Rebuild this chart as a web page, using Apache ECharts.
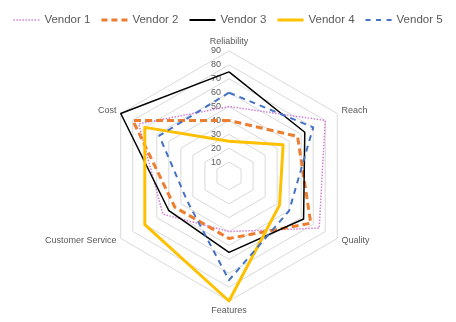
<!DOCTYPE html>
<html>
<head>
<meta charset="utf-8">
<script src="https://cdn.jsdelivr.net/npm/echarts@6/dist/echarts.min.js"></script>
<style>html,body{margin:0;padding:0;background:#fff}#c{width:456px;height:322px}</style>
</head>
<body>
<div id="c"></div>
<script>
// Axes in clockwise order starting at top
var axes = ['Reliability', 'Reach', 'Quality', 'Features', 'Customer Service', 'Cost'];
var axisMax = 90;
var vendorNames = ['Vendor 1', 'Vendor 2', 'Vendor 3', 'Vendor 4', 'Vendor 5'];
var vendor1 = [50, 80, 75, 40, 55, 75];
var vendor2 = [40, 57, 68, 45, 45, 80];
var vendor3 = [75, 63, 62, 55, 50, 90];
var vendor4 = [25, 45, 42, 90, 70, 70];
var vendor5 = [60, 70, 50, 75, 35, 58];

var styles = [
  {color: '#d27fd8', width: 1.5, type: [1.5, 1.5], icon: 'path://M0,0h1.5v1.5h-1.5z M3,0h1.5v1.5h-1.5z M6,0h1.5v1.5h-1.5z M9,0h1.5v1.5h-1.5z M12,0h1.5v1.5h-1.5z M15,0h1.5v1.5h-1.5z M18,0h1.5v1.5h-1.5z M21,0h1.5v1.5h-1.5z M24.5,0h1.5v1.5h-1.5z'},
  {color: '#ed7d31', width: 3, type: [7, 4], icon: 'path://M0,0h6v3h-6z M10,0h6v3h-6z M20,0h6v3h-6z'},
  {color: '#000000', width: 1.5, type: 'solid', icon: 'path://M0,0.5h26v2h-26z M0,0h0.01v3h-0.01z'},
  {color: '#ffc000', width: 3, type: 'solid', icon: 'path://M0,0h26v3h-26z'},
  {color: '#4472c4', width: 2, type: [6, 5], icon: 'path://M0,0.5h5v2h-5z M10.5,0.5h5v2h-5z M21,0.5h5v2h-5z M0,0h0.01v3h-0.01z'}
];

// ECharts places indicators counter-clockwise; reorder to get clockwise layout
var order = [0, 5, 4, 3, 2, 1];
function reorder(arr) { return order.map(function (i) { return arr[i]; }); }

var indicators = reorder(axes).map(function (n, k) {
  var ind = {name: n, min: 0, max: axisMax};
  if (k === 0) ind.axisLabel = {show: true};
  return ind;
});

var allValues = [vendor1, vendor2, vendor3, vendor4, vendor5];
var seriesData = allValues.map(function (vals, i) {
  var s = styles[i];
  return {
    name: vendorNames[i],
    value: reorder(vals),
    symbol: 'none',
    itemStyle: {color: s.color},
    lineStyle: {color: s.color, width: s.width, type: s.type}
  };
});

var chart = echarts.init(document.getElementById('c'), null, {renderer: 'canvas'});
chart.setOption({
  animation: false,
  textStyle: {fontFamily: 'Liberation Sans'},
  legend: {
    top: 9,
    left: 'center',
    itemWidth: 26,
    itemHeight: 3,
    itemGap: 11,
    textStyle: {color: '#595959', fontSize: 11.5, fontFamily: 'Liberation Sans'},
    data: vendorNames.map(function (n, i) { return {name: n, icon: styles[i].icon}; })
  },
  radar: {
    center: [229, 176],
    radius: 125,
    startAngle: 90,
    splitNumber: 9,
    shape: 'polygon',
    indicator: indicators,
    axisName: {color: '#595959', fontSize: 9, fontFamily: 'Liberation Sans'},
    nameGap: 5,
    axisLine: {show: false},
    axisTick: {show: false},
    splitArea: {show: false},
    splitLine: {lineStyle: {color: '#d9d9d9', width: 1}},
    axisLabel: {
      show: false,
      color: '#595959',
      fontSize: 9,
      fontFamily: 'Liberation Sans',
      formatter: function (v) { return v === 0 ? '' : String(v); }
    }
  },
  series: [{
    type: 'radar',
    data: seriesData
  }]
});
</script>
</body>
</html>
